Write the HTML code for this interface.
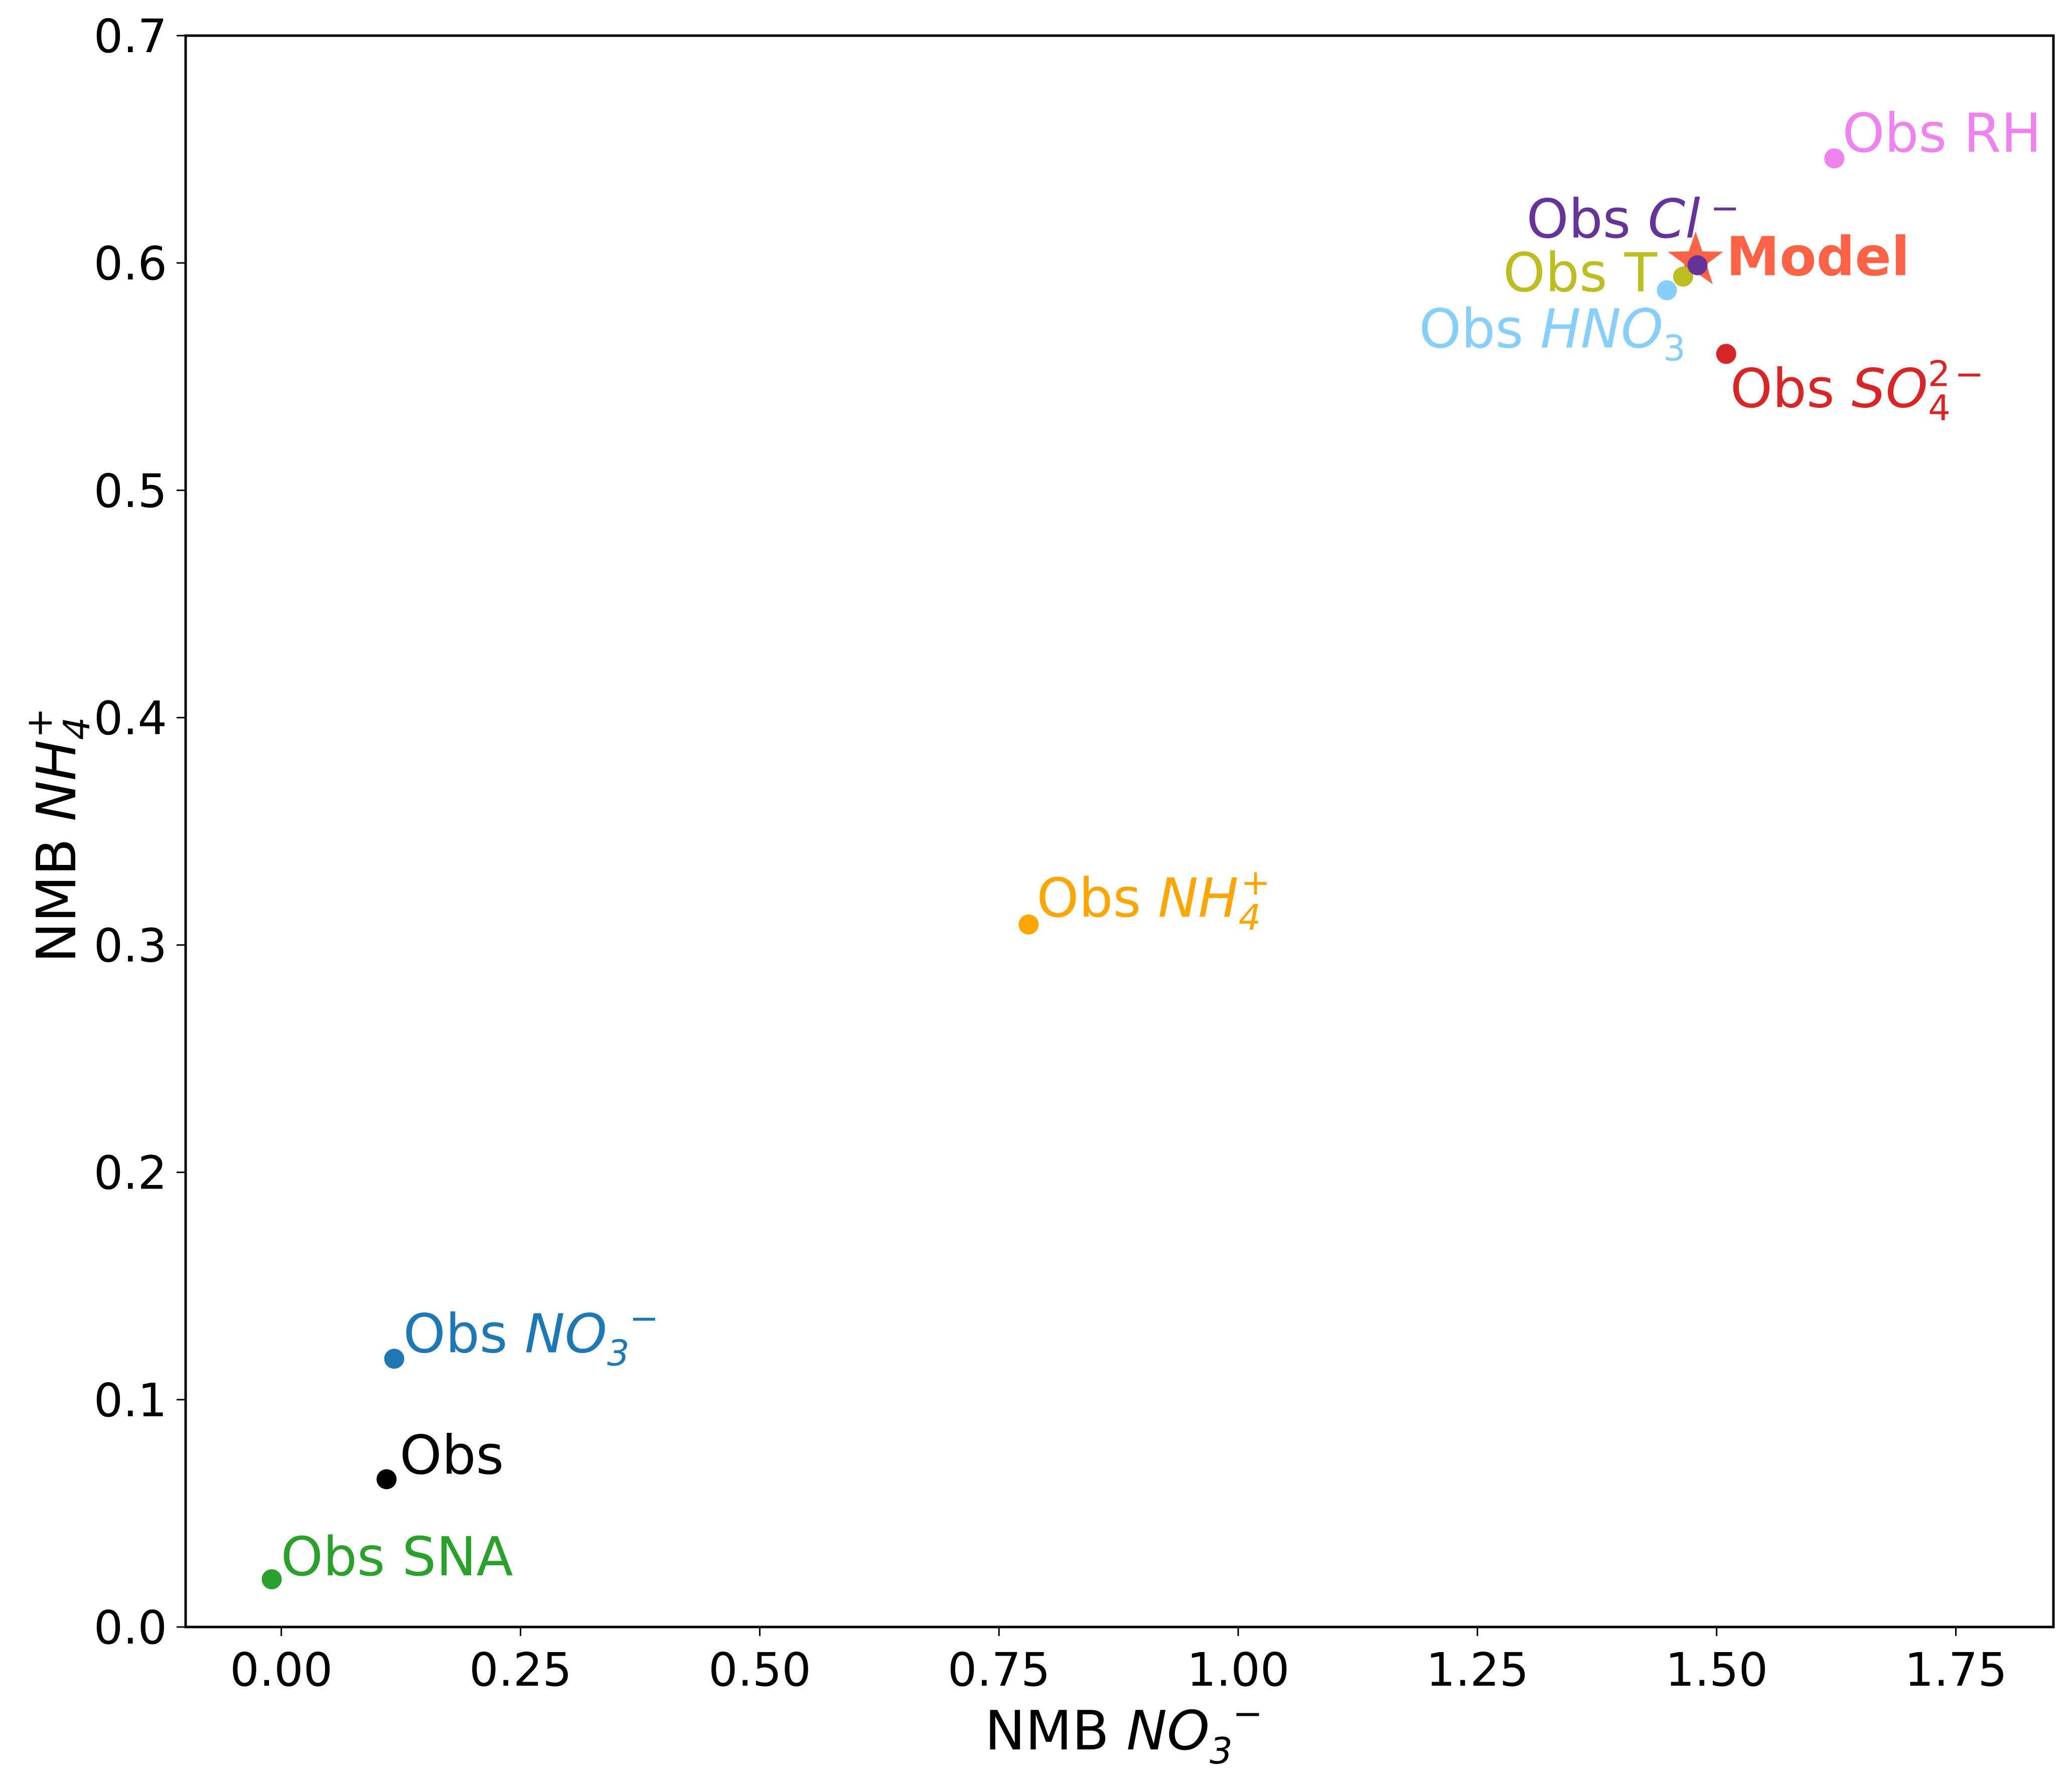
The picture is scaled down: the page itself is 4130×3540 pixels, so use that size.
<!DOCTYPE html>
<html><head><meta charset="utf-8"><style>
html,body{margin:0;padding:0;background:#fff;}
svg{display:block;font-family:"DejaVu Sans","Liberation Sans",sans-serif;}
</style></head><body>
<svg id="chart" width="4130" height="3540" viewBox="0 0 4130 3540" xmlns="http://www.w3.org/2000/svg">
<rect width="4130" height="3540" fill="#fff"/>
<g id="marks"></g>
<rect x="370" y="71" width="3723" height="3172" fill="none" stroke="#000" stroke-width="5"/>
<g id="ticks"></g>
<text x="2240" y="3487" font-size="108" text-anchor="middle">NMB <tspan font-style="italic">NO</tspan><tspan font-style="italic" font-size="72" dy="28">3</tspan><tspan font-size="72" dy="-75">−</tspan></text>
<text transform="translate(150,1665) rotate(-90)" font-size="108" text-anchor="middle">NMB <tspan font-style="italic">NH</tspan><tspan font-style="italic" font-size="72" dy="28">4</tspan><tspan font-size="72" dx="-42" dy="-75">+</tspan></text>
</svg>
<script>
const names = ["Obs SNA","Obs","Obs NO3","Obs NH4","Obs HNO3","Obs T","Obs Cl","Obs SO4","Obs RH"];
const xVals = [-0.01,0.11,0.118,0.781,1.448,1.465,1.48,1.51,1.623];
const yVals = [0.021,0.065,0.118,0.309,0.588,0.594,0.599,0.560,0.646];
const colors = ["#2ca02c","#000000","#1f77b4","#ffa500","#87cefa","#bcbd22","#663399","#d62728","#ee82ee"];
const modelX = [1.478];
const modelY = [0.601];
const xTicks = [0,0.25,0.5,0.75,1.0,1.25,1.5,1.75];
const xTickLabels = ["0.00","0.25","0.50","0.75","1.00","1.25","1.50","1.75"];
const yTicks = [0,0.1,0.2,0.3,0.4,0.5,0.6,0.7];
const yTickLabels = ["0.0","0.1","0.2","0.3","0.4","0.5","0.6","0.7"];

const X0=370,X1=4093,Y0=3243,Y1=71,xmin=-0.1,xmax=1.852,ymin=0,ymax=0.7;
function sx(v){return X0+(v-xmin)/(xmax-xmin)*(X1-X0);}
function sy(v){return Y0-(v-ymin)/(ymax-ymin)*(Y0-Y1);}
const NS="http://www.w3.org/2000/svg";
const marks=document.getElementById('marks'), ticks=document.getElementById('ticks');

const labelHTML = [
 'Obs SNA','Obs',
 'Obs <tspan font-style="italic">NO</tspan><tspan font-style="italic" font-size="70" dy="26">3</tspan><tspan font-size="70" dy="-70">−</tspan>',
 'Obs <tspan font-style="italic">NH</tspan><tspan font-style="italic" font-size="70" dy="26">4</tspan><tspan font-size="70" dx="-40" dy="-70">+</tspan>',
 'Obs <tspan font-style="italic">HNO</tspan><tspan font-size="70" dy="26">3</tspan>',
 'Obs T',
 'Obs <tspan font-style="italic">Cl</tspan><tspan font-size="70" dx="20" dy="-35">−</tspan>',
 'Obs <tspan font-style="italic">SO</tspan><tspan font-size="70" dy="-42">2</tspan><tspan font-size="70" dx="-44" dy="68">4</tspan><tspan font-size="70" dx="8" dy="-68">−</tspan>',
 'Obs RH'
];
const dxs=[18,26,18,16,-494,-359,-341,8,16];
const dys=[-8,-11,-13,-16,114,29,-55,106,-13];

for(let i=0;i<modelX.length;i++){
  const cx=sx(modelX[i]), cy=sy(modelY[i]), R=58, r=23;
  let pts=[];
  for(let k=0;k<10;k++){const a=-Math.PI/2+k*Math.PI/5;const rr=k%2?r:R;pts.push((cx+rr*Math.cos(a)).toFixed(1)+','+(cy+rr*Math.sin(a)).toFixed(1));}
  const s=document.createElementNS(NS,'polygon');
  
  
  s.setAttribute('points',pts.join(' '));s.setAttribute('fill','#ff6347');
  marks.appendChild(s);
  const t=document.createElementNS(NS,'text');
  
  
  t.setAttribute('x',cx+61);t.setAttribute('y',cy+29);t.setAttribute('font-size','107');
  t.setAttribute('font-weight','bold');t.setAttribute('fill','#ff6347');t.textContent='Model';
  marks.appendChild(t);
}
for(let i=0;i<xVals.length;i++){
  const cx=sx(xVals[i]), cy=sy(yVals[i]);
  const c=document.createElementNS(NS,'circle');
  
  
  c.setAttribute('cx',cx);c.setAttribute('cy',cy);c.setAttribute('r',20);c.setAttribute('fill',colors[i]);
  marks.appendChild(c);
  const t=document.createElementNS(NS,'text');
  
  
  t.setAttribute('x',cx+dxs[i]);t.setAttribute('y',cy+dys[i]);t.setAttribute('font-size','107');t.setAttribute('fill',colors[i]);
  t.innerHTML=labelHTML[i];
  marks.appendChild(t);
}
xTicks.forEach((v,i)=>{
  const x=sx(v);
  const l=document.createElementNS(NS,'line');
  
  
  l.setAttribute('x1',x);l.setAttribute('x2',x);l.setAttribute('y1',Y0);l.setAttribute('y2',Y0+18);l.setAttribute('stroke','#000');l.setAttribute('stroke-width','3');
  ticks.appendChild(l);
  const t=document.createElementNS(NS,'text');
  
  
  t.setAttribute('x',x);t.setAttribute('y',3360);t.setAttribute('font-size','92');t.setAttribute('text-anchor','middle');
  t.textContent=xTickLabels[i];ticks.appendChild(t);
});
yTicks.forEach((v,i)=>{
  const y=sy(v);
  const l=document.createElementNS(NS,'line');
  
  
  l.setAttribute('x1',X0-18);l.setAttribute('x2',X0);l.setAttribute('y1',y);l.setAttribute('y2',y);l.setAttribute('stroke','#000');l.setAttribute('stroke-width','3');
  ticks.appendChild(l);
  const t=document.createElementNS(NS,'text');
  
  
  t.setAttribute('x',333);t.setAttribute('y',y+33);t.setAttribute('font-size','92');t.setAttribute('text-anchor','end');
  t.textContent=yTickLabels[i];ticks.appendChild(t);
});
</script>
</body></html>
